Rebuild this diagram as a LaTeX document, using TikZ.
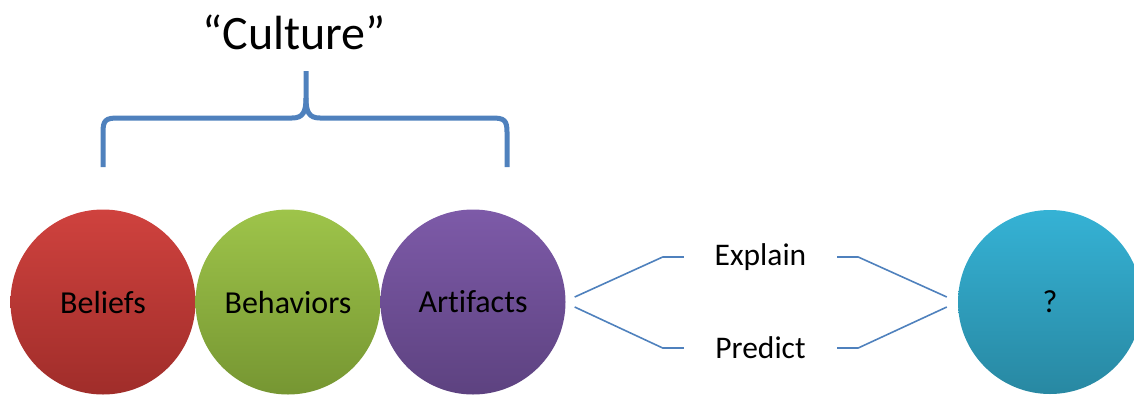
\documentclass[tikz,border=0pt]{standalone}
\usepackage{fontspec}
\setmainfont{Carlito}[Ligatures=NoCommon]
\definecolor{linkblue}{HTML}{4F81BD}
\definecolor{redT}{RGB}{207,66,62}
\definecolor{redB}{RGB}{160,45,42}
\definecolor{grnT}{RGB}{158,196,74}
\definecolor{grnB}{RGB}{118,150,50}
\definecolor{purT}{RGB}{125,90,168}
\definecolor{purB}{RGB}{93,66,128}
\definecolor{bluT}{RGB}{53,178,213}
\definecolor{bluB}{RGB}{40,136,162}
\tikzset{
  bubble/.style={circle, minimum size=185pt, inner sep=0pt,
    font=\fontsize{32}{38}\selectfont, text=black},
  lbl/.style={font=\fontsize{31.5}{37}\selectfont, minimum width=153pt, inner sep=0pt},
  conn/.style={draw=linkblue, line width=1.6pt, line join=round},
  brace/.style={draw=linkblue, line width=5pt, line join=round}
}
\begin{document}
\begin{tikzpicture}[x=1pt,y=-1pt]
\useasboundingbox (0,0) rectangle (1134,397);
\begin{scope}
\clip (0,0) rectangle (1134,397);
\node[bubble, top color=redT, bottom color=redB] (bel) at (103,302) {Beliefs};
\node[bubble, top color=grnT, bottom color=grnB] (beh) at (288,302) {Behaviors};
\node[bubble, top color=purT, bottom color=purB] (art) at (473,302) {Artifacts};
\node[bubble, minimum size=184pt, top color=bluT, bottom color=bluB] (q) at (1050,302) {?};
\end{scope}
\node[lbl] (expl) at (760.5,257) {Explain};
\node[lbl] (pred) at (760.5,348) {Predict};
\node[font=\fontsize{48}{56}\selectfont, inner sep=0pt] (cult) at (294,32) {“Culture”};
\draw[conn] ([shift={(9,-5)}]art.east) -- ++(88,-40) -- (expl.west);
\draw[conn] ([shift={(9,5)}]art.east) -- ++(88,41) -- (pred.west);
\draw[conn] (expl.east) -- ++(21,0) -- ([shift={(-11,-5)}]q.west);
\draw[conn] (pred.east) -- ++(21,0) -- ([shift={(-11,5)}]q.west);
\draw[brace] (103,167) -- (103,132) .. controls (103,120) and (106,118) .. (118,118) -- (292,118)
  .. controls (303,118) and (306,112) .. (306,98) -- (306,71);
\draw[brace] (306,98) .. controls (306,112) and (309,118) .. (320,118) -- (492,118)
  .. controls (504,118) and (507,120) .. (507,132) -- (507,167);
\end{tikzpicture}
\end{document}
